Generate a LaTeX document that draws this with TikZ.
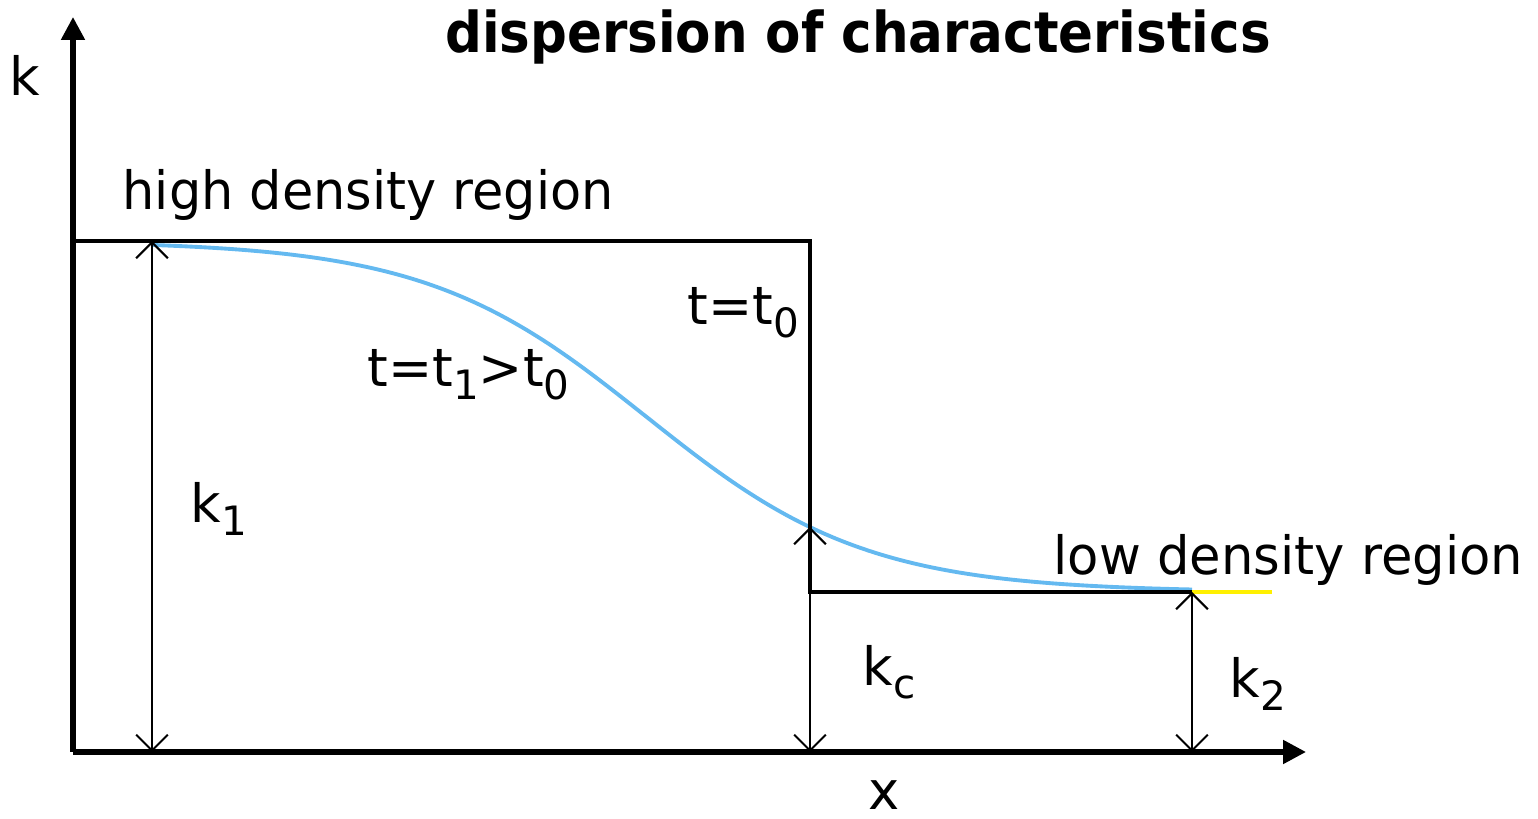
\documentclass[tikz,border=0pt]{standalone}
\usepackage{fontspec}
\usepackage{graphicx}
\setmainfont{DejaVu Sans}
\usetikzlibrary{arrows.meta}
\definecolor{curveblue}{RGB}{100,185,240}
\definecolor{yel}{RGB}{255,240,0}
\newcommand{\lowsub}[1]{\raisebox{-0.45ex}{\fontsize{11.5}{13}\selectfont #1}}
\newcommand{\nar}[1]{\scalebox{0.965}[1]{#1}}
\tikzset{
  axis/.style={line width=1.45pt,-{Triangle[length=6.5pt,width=6.5pt]}},
  edge/.style={line width=1.4pt},
  dim/.style={line width=0.6pt,{Straight Barb[length=4.5pt,width=9pt]}-{Straight Barb[length=4.5pt,width=9pt]}},
  lbl/.style={font=\fontsize{15}{18}\selectfont, inner sep=0pt},
}
\begin{document}
\begin{tikzpicture}[x=0.01cm,y=-0.01cm]
\useasboundingbox (0,0) rectangle (1538,819);
% coordinates
\coordinate (O) at (73,752);
\coordinate (Ytop) at (73,17);
\coordinate (Xend) at (1306,752);
\coordinate (A) at (73,241);
\coordinate (B) at (810,241);
\coordinate (C) at (810,592);
\coordinate (D) at (1192,592);
\coordinate (E) at (1272,592);
\coordinate (K1t) at (152,241);
\coordinate (K1b) at (152,752);
\coordinate (Kct) at (810,527);
\coordinate (Kcb) at (810,752);
\coordinate (K2b) at (1192,752);
% curve
\draw[curveblue, line width=1.1pt] plot[domain=152:1192, samples=120, smooth] (\x,{241+351*(1+tanh((\x-646)/221))/2});
% yellow tail
\draw[yel, line width=1.3pt] (D) -- (E);
% profile
\draw[edge] (A) -- (B) -- (C) -- (D);
% axes
\draw[axis] (O) -- (Ytop);
\draw[axis] (O) -- (Xend);
% dimension arrows
\draw[dim] (K1b) -- (K1t);
\draw[dim] (Kcb) -- (Kct);
\draw[dim] (K2b) -- (D);
% labels
\node[inner sep=0pt, font=\bfseries\fontsize{16}{19}\selectfont] (title) at (858,37) {\scalebox{0.915}[1]{dispersion of characteristics}};
\node[lbl] (k) at (25,75) {k};
\node[lbl, anchor=base] (x) at (884,810) {x};
\node[lbl, anchor=base west] (high) at (122,210) {\nar{high density region}};
\node[lbl, anchor=base west] (low) at (1053,575) {\scalebox{0.97}[1]{low density region}};
\node[lbl, anchor=base west] (t0) at (687,325) {t=t\lowsub{0}};
\node[lbl, anchor=base west] (t1) at (367,387) {t=t\lowsub{1}>t\lowsub{0}};
\node[lbl, anchor=base west] (k1) at (190,523) {k\lowsub{1}};
\node[lbl, anchor=base west] (kc) at (862,686) {k\lowsub{c}};
\node[lbl, anchor=base west] (k2) at (1229,698) {k\lowsub{2}};
\end{tikzpicture}
\end{document}
